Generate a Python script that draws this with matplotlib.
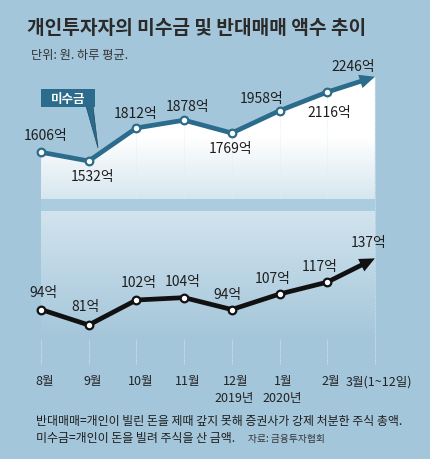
import numpy as np
import matplotlib
matplotlib.use("Agg")
import matplotlib.pyplot as plt
import matplotlib.transforms as mtransforms
from matplotlib.colors import LinearSegmentedColormap
from matplotlib.patches import Polygon, Rectangle

plt.rcParams['font.family'] = ['Noto Sans CJK KR', 'DejaVu Sans']

# data (억 원, 하루 평균)
months = ['8월', '9월', '10월', '11월', '12월', '1월', '2월', '3월(1~12일)']
years = {4: '2019년', 5: '2020년'}
misugeum = [1606, 1532, 1812, 1878, 1769, 1958, 2116, 2246]
bandae = [94, 81, 102, 104, 94, 107, 117, 137]

# label offsets in pixels (dx, dy), dy positive = up
mis_off = [(5, 17), (4, -15), (-1, 15), (3, 14), (-1, -15), (-18, 13), (2, -20), (-22, 11)]
ban_off = [(2, 18), (-3, 19), (2, 18), (-1, 17), (-4, 16), (-7, 16), (-8, 16), (-6, 16)]

BG = '#a4c6da'
BLUE = '#2b6b8b'
W, H = 430, 460

fig = plt.figure(figsize=(4.3, 4.6), dpi=100, facecolor=BG)

# decoration axes in pixel coordinates
deco = fig.add_axes([0, 0, 1, 1])
deco.set_xlim(0, W)
deco.set_ylim(H, 0)
deco.axis('off')

x = np.arange(len(months))
step = 47.7
xlim = (-41 / step, (W - 41) / step)

ax1 = fig.add_axes([0, 0, 1, 1], facecolor='none')
ax1.set_xlim(*xlim)
ax1.set_ylim(1532 - (H - 162) / 0.118, 1532 + 162 / 0.118)
ax1.axis('off')

ax2 = fig.add_axes([0, 0, 1, 1], facecolor='none')
ax2.set_xlim(*xlim)
ax2.set_ylim(81 - (H - 326) / 1.19, 81 + 326 / 1.19)
ax2.axis('off')


def pix_to_val(ax, ypix):
    # figure pixel row (from top) -> data value on ax
    return ax.transData.inverted().transform((0, H - ypix))[1]


# lower panel gradient + band
y_band_top = pix_to_val(ax2, 200)
y_band_bot = pix_to_val(ax2, 213)
y_low_end = pix_to_val(ax2, 340)
ax2.add_patch(Rectangle((x[0], y_band_bot), x[-1] - x[0], y_band_top - y_band_bot,
                        facecolor='#abcbde', edgecolor='none', zorder=0))
cm_low = LinearSegmentedColormap.from_list('low', ['#d2e4ee', BG])
ax2.imshow(np.linspace(0, 1, 256).reshape(-1, 1), cmap=cm_low, aspect='auto',
           extent=(x[0], x[-1], y_low_end, y_band_bot), zorder=0, interpolation='bicubic')

# upper area fill (gradient clipped under the line)
y_fill_bot = pix_to_val(ax1, 200)
cm_up = LinearSegmentedColormap.from_list('up', ['#ffffff', '#ffffff', '#d6e6ef'])
im = ax1.imshow(np.linspace(0, 1, 256).reshape(-1, 1), cmap=cm_up, aspect='auto',
                extent=(x[0], x[-1], y_fill_bot, max(misugeum)), zorder=1)
poly = Polygon(list(zip(x, misugeum)) + [(x[-1], y_fill_bot), (x[0], y_fill_bot)],
               closed=True, transform=ax1.transData, facecolor='none', edgecolor='none')
ax1.add_patch(poly)
im.set_clip_path(poly)
ax1.set_xlim(*xlim)

# vertical dotted guides
y_grid_end = pix_to_val(ax1, 365)
ax1.vlines(x, y_grid_end, misugeum, colors='#e3ecf2', linestyles=(0, (1, 1.2)),
           linewidth=0.6, zorder=2)

arrow_style = 'simple,head_length=0.55,head_width=0.5,tail_width=0.17'

# 미수금 line
ax1.plot(x[:-1], misugeum[:-1], color=BLUE, lw=3.4, zorder=4, solid_capstyle='round')
ax1.annotate('', xy=(x[-1], misugeum[-1]), xytext=(x[-2], misugeum[-2]),
             arrowprops=dict(arrowstyle=arrow_style, mutation_scale=20,
                             facecolor=BLUE, edgecolor='none', shrinkA=0, shrinkB=0),
             zorder=4)
ax1.plot(x[:-1], misugeum[:-1], 'o', ms=5.5, mfc='white', mec=BLUE, mew=1.6, zorder=5)
for xi, v, (dx, dy) in zip(x, misugeum, mis_off):
    ax1.annotate(f'{v}억', (xi, v), xytext=(dx, dy), textcoords='offset pixels',
                 ha='center', va='center', fontsize=10, color='#1e1e1e', zorder=6)

# 반대매매 line
ax2.plot(x[:-1], bandae[:-1], color='#111111', lw=3.4, zorder=4, solid_capstyle='round')
ax2.annotate('', xy=(x[-1], bandae[-1]), xytext=(x[-2], bandae[-2]),
             arrowprops=dict(arrowstyle=arrow_style, mutation_scale=20,
                             facecolor='#111111', edgecolor='none', shrinkA=0, shrinkB=0),
             zorder=4)
ax2.plot(x[:-1], bandae[:-1], 'o', ms=5.5, mfc='white', mec='#111111', mew=1.6, zorder=5)
for xi, v, (dx, dy) in zip(x, bandae, ban_off):
    ax2.annotate(f'{v}억', (xi, v), xytext=(dx, dy), textcoords='offset pixels',
                 ha='center', va='center', fontsize=10, color='#1e1e1e', zorder=6)

# callout boxes
deco.add_patch(Polygon([(86, 107), (93, 107), (98, 149)], closed=True,
                       facecolor=BLUE, edgecolor='#1d4a60', lw=0.5, zorder=3))
deco.add_patch(Rectangle((41, 90), 54, 18, facecolor=BLUE, edgecolor='none', zorder=3))
deco.text(68, 99, '미수금', color='white', fontsize=9, fontweight='bold',
          ha='center', va='center', zorder=4)
deco.add_patch(Polygon([(245, 271), (253, 271), (254, 302)], closed=True,
                       facecolor='#111111', edgecolor='#111111', lw=0.5, zorder=3))
deco.add_patch(Rectangle((198, 252), 60, 20, facecolor='#111111', edgecolor='none', zorder=3))
deco.text(228, 262, '반대매매', color='white', fontsize=9, fontweight='bold',
          ha='center', va='center', zorder=4)

# month labels
trans = mtransforms.blended_transform_factory(ax1.transData, fig.transFigure)
for xi, m in zip(x, months):
    ax1.text(xi + 0.08, 1 - 382 / H, m, transform=trans, ha='center', va='center',
             fontsize=9, color='#222222')
for xi, yr in years.items():
    ax1.text(xi + 0.05, 1 - 399 / H, yr, transform=trans, ha='center', va='center',
             fontsize=9, color='#222222')

# titles
fig.text(27 / W, 1 - 29 / H, '개인투자자의 미수금 및 반대매매 액수 추이', fontsize=13.8,
         fontweight='bold', color='#2a2a2a', ha='left', va='center')
fig.text(31 / W, 1 - 56 / H, '단위: 원. 하루 평균.', fontsize=8.8, color='#333333',
         ha='left', va='center')

# footnotes
fig.text(36 / W, 1 - 422 / H, '반대매매=개인이 빌린 돈을 제때 갚지 못해 증권사가 강제 처분한 주식 총액.',
         fontsize=8.6, color='#1e1e1e', ha='left', va='center')
fig.text(36 / W, 1 - 439 / H, '미수금=개인이 돈을 빌려 주식을 산 금액.',
         fontsize=8.6, color='#1e1e1e', ha='left', va='center')
fig.text(248 / W, 1 - 439 / H, '자료: 금융투자협회', fontsize=7, color='#333333',
         ha='left', va='center')

fig.savefig('out.png', dpi=100, facecolor=BG)
